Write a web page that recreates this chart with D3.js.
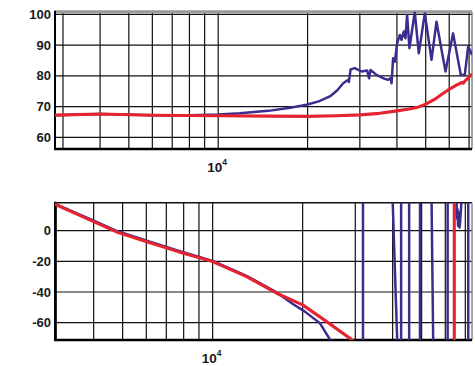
<!DOCTYPE html>
<html>
<head>
<meta charset="utf-8">
<script src="https://cdn.jsdelivr.net/npm/d3@7"></script>
<style>
  body { margin: 0; background: #fff; }
  text { font-family: "Liberation Sans", Arial, sans-serif; font-weight: bold; fill: #1a1a1a; }
</style>
</head>
<body>
<div id="chart"></div>
<script>
var svgWidth = 475;
var svgHeight = 366;

// magnitude (top panel)
var magTicks = [60, 70, 80, 90, 100];
var magBlueF = [2820, 4000, 6000, 8000, 10000, 11830, 14740, 17500, 19850, 21800, 23770, 25200, 26360, 27400, 27550, 27920, 28860, 30380, 31750, 32220, 32580, 34140, 36390, 37360, 38040, 38370, 38830, 39360, 40070, 40920, 41440, 42190, 42740, 43280, 44080, 45930, 47390, 49660, 52310, 54360, 58290, 61830, 65630, 67710, 69480, 71660];
var magBlueV = [67.2, 67.6, 67.2, 67.2, 67.4, 67.8, 68.6, 69.6, 70.6, 71.7, 73.3, 75.3, 77.6, 78.7, 78.0, 82.1, 82.5, 81.4, 81.7, 79.2, 81.9, 80.3, 79.0, 78.7, 79.2, 77.6, 85.7, 84.6, 90.6, 93.3, 91.7, 94.4, 92.2, 99.8, 89.0, 100.8, 87.3, 100.3, 85.2, 97.6, 81.4, 93.8, 80.3, 80.3, 89.5, 86.8];
var magRedF = [2820, 4000, 6000, 10000, 15000, 20000, 25000, 30000, 35000, 40000, 44000, 47100, 50000, 53700, 56500, 59500, 63000, 66000, 67000, 67700, 69000, 71650];
var magRedV = [67.2, 67.6, 67.2, 67.0, 66.9, 66.8, 67.0, 67.3, 67.8, 68.6, 69.2, 69.8, 70.8, 72.4, 73.9, 75.4, 76.8, 77.8, 77.6, 78.3, 79.0, 80.6];

// phase (bottom panel)
var phaseTicks = [-60, -40, -20, 0];
var phaseBlueF = [2970, 4000, 4830, 6020, 7670, 10000, 12990, 16370, 18600, 20350, 22830, 24700, 26000, 31830, 31830, 40000, 41450, 42700, 42700, 45400, 45450, 49350, 49400, 53970, 54670, 61090, 61090, 65400, 65600, 65900, 66200, 66600, 67000, 67500, 68000, 68100, 71600, 71600];
var phaseBlueV = [17.5, 6.5, -0.6, -6.6, -13.1, -19.8, -29.5, -40.3, -48, -52.8, -60.3, -71, -100, -180, 180, 20, -73, -180, 180, 180, -180, -180, 180, 20, -73, -180, 180, 20, 8, 14, 3, 12, 2, 10, 20, 180, 180, -180];
var phaseRedF = [2970, 4000, 4830, 6020, 7670, 10000, 12990, 16370, 20000, 23420, 29170, 35000, 50000, 64300, 64300, 73700];
var phaseRedV = [17.2, 5.9, -1.3, -7.2, -13.7, -20.2, -30, -40.8, -48.4, -57.7, -71, -90, -140, -180, 180, 160];

var freqGrid = [3000, 4000, 5000, 6000, 7000, 8000, 9000, 10000, 20000, 30000, 40000, 50000, 60000, 70000];

var blue = "#3d2b8e";
var red = "#e5242f";

var svg = d3.select("#chart")
  .append("svg")
  .attr("width", svgWidth)
  .attr("height", svgHeight);

function zip(f, v) {
  return f.map((d, i) => ({ f: d, v: v[i] }));
}

function panel(opts) {
  var x = d3.scaleLog().domain(opts.xDomain).range([55, 472]);
  var y = d3.scaleLinear().domain(opts.yDomain).range([opts.bottom, opts.top]);
  var g = svg.append("g");

  g.append("clipPath").attr("id", opts.id)
    .append("rect")
    .attr("x", 55).attr("y", opts.top)
    .attr("width", 417).attr("height", opts.bottom - opts.top);

  // grid
  g.append("g").selectAll("line").data(freqGrid.filter(d => x(d) > 56 && x(d) < 471)).enter()
    .append("line")
    .attr("x1", d => x(d)).attr("x2", d => x(d))
    .attr("y1", opts.top).attr("y2", opts.bottom)
    .attr("stroke", "#111").attr("stroke-width", 1.2);

  g.append("g").selectAll("line").data(opts.ticks).enter()
    .append("line")
    .attr("x1", 55).attr("x2", 472)
    .attr("y1", d => y(d)).attr("y2", d => y(d))
    .attr("stroke", "#111").attr("stroke-width", 1.2);

  // frame
  g.append("line").attr("x1", 55).attr("x2", 472).attr("y1", opts.top).attr("y2", opts.top)
    .attr("stroke", opts.topColor).attr("stroke-width", opts.topWidth);
  g.append("line").attr("x1", 472).attr("x2", 472).attr("y1", opts.top).attr("y2", opts.bottom)
    .attr("stroke", "#888").attr("stroke-width", 1.5);
  g.append("line").attr("x1", 55).attr("x2", 55).attr("y1", opts.top - 1).attr("y2", opts.bottom + 1)
    .attr("stroke", "#000").attr("stroke-width", 2);
  g.append("line").attr("x1", 54).attr("x2", 472).attr("y1", opts.bottom).attr("y2", opts.bottom)
    .attr("stroke", "#000").attr("stroke-width", 2.5);

  var line = d3.line().x(d => x(d.f)).y(d => y(d.v));
  var lines = g.append("g").attr("clip-path", `url(#${opts.id})`);
  lines.append("path").datum(opts.blue)
    .attr("d", line).attr("fill", "none")
    .attr("stroke", blue).attr("stroke-width", 2.5).attr("stroke-linejoin", "round");
  lines.append("path").datum(opts.red)
    .attr("d", line).attr("fill", "none")
    .attr("stroke", red).attr("stroke-width", 3.1).attr("stroke-linejoin", "round");

  // tick labels
  g.append("g").selectAll("text").data(opts.ticks).enter()
    .append("text")
    .attr("x", 51).attr("y", d => y(d)).attr("dy", "0.36em")
    .attr("text-anchor", "end")
    .attr("font-size", "13px")
    .text(d => d);

  var xl = g.append("text")
    .attr("x", x(10000) - 1).attr("y", opts.bottom + 22.5)
    .attr("text-anchor", "middle")
    .attr("font-size", "13.5px");
  xl.append("tspan").text("10");
  xl.append("tspan").attr("dy", "-7").attr("font-size", "8.5px").text("4");
}

panel({
  id: "clipMag",
  xDomain: [2820, 71600],
  yDomain: [56.2, 100.85],
  top: 11.7, bottom: 149,
  ticks: magTicks,
  topColor: "#999", topWidth: 3,
  blue: zip(magBlueF, magBlueV),
  red: zip(magRedF, magRedV)
});

panel({
  id: "clipPhase",
  xDomain: [2970, 73700],
  yDomain: [-71.3, 18.2],
  top: 202.7, bottom: 340,
  ticks: phaseTicks,
  topColor: "#111", topWidth: 1.5,
  blue: zip(phaseBlueF, phaseBlueV),
  red: zip(phaseRedF, phaseRedV)
});
</script>
</body>
</html>
